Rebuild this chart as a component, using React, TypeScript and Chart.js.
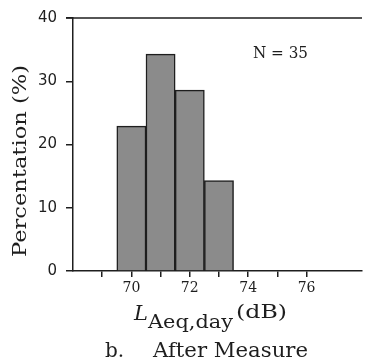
import React, { useEffect, useRef } from 'react';
import { Chart, registerables } from 'chart.js';

Chart.register(...registerables);

// ---- data ----
const binCenters = [70, 71, 72, 73];
const percentages = [22.9, 34.3, 28.6, 14.3];
const xTickLabels = [70, 72, 74, 76];
const yTickStep = 10;
const xMin = 68;
const xMax = 77.9;
const yMin = 0;
const yMax = 40;
const yTitle = 'Percentation (%)';
const xTitleMain = 'L';
const xTitleSub = 'Aeq,day';
const xTitleUnit = '(dB)';
const captionLetter = 'b.';
const captionText = 'After Measure';
const sampleNote = 'N = 35';

const INK = '#1e1e1e';

function fitText(
  ctx: CanvasRenderingContext2D,
  text: string,
  x: number,
  y: number,
  font: string,
  width: number,
  align: CanvasTextAlign = 'left'
) {
  ctx.save();
  ctx.font = font;
  ctx.textAlign = align;
  ctx.textBaseline = 'alphabetic';
  const w = ctx.measureText(text).width || 1;
  ctx.translate(x, y);
  ctx.scale(width / w, 1);
  ctx.fillStyle = INK;
  ctx.fillText(text, 0, 0);
  ctx.restore();
}

const annotations = {
  id: 'annotations',
  afterDraw(chart: any) {
    const ctx: CanvasRenderingContext2D = chart.ctx;
    const area = chart.chartArea;
    ctx.save();
    // top frame line
    ctx.strokeStyle = INK;
    ctx.lineWidth = 1.5;
    ctx.beginPath();
    ctx.moveTo(area.left - 7, area.top);
    ctx.lineTo(area.right, area.top);
    ctx.stroke();

    // y title
    ctx.save();
    ctx.translate(26, 161);
    ctx.rotate(-Math.PI / 2);
    fitText(ctx, yTitle, 0, 0, '19px "DejaVu Serif"', 192, 'center');
    ctx.restore();

    // x title
    ctx.fillStyle = INK;
    ctx.font = 'italic 21px "DejaVu Serif"';
    ctx.textAlign = 'left';
    ctx.textBaseline = 'alphabetic';
    ctx.fillText(xTitleMain, 134, 320);
    fitText(ctx, xTitleSub, 148, 328, '19px "DejaVu Serif"', 85);
    fitText(ctx, xTitleUnit, 236, 318, '18px "DejaVu Serif"', 51);

    // caption
    ctx.fillStyle = INK;
    ctx.font = '20px "DejaVu Serif"';
    ctx.fillText(captionLetter, 105, 357);
    fitText(ctx, captionText, 153, 357, '21px "DejaVu Serif"', 155);

    // sample note
    fitText(ctx, sampleNote, 253, 58, '16px "DejaVu Serif"', 55);
    ctx.restore();
  },
};

export default function App() {
  const canvasRef = useRef<HTMLCanvasElement | null>(null);

  useEffect(() => {
    if (!canvasRef.current) return;
    const chart = new Chart(canvasRef.current, {
      type: 'bar',
      data: {
        datasets: [
          {
            data: binCenters.map((x, i) => ({ x, y: percentages[i] })),
            backgroundColor: '#8b8b8b',
            borderColor: INK,
            borderWidth: 1.5,
            barPercentage: 1,
            categoryPercentage: 1,
          },
        ],
      },
      options: {
        animation: false,
        responsive: true,
        maintainAspectRatio: false,
        layout: { padding: { top: 17, left: 0, right: 0, bottom: 0 } },
        plugins: {
          legend: { display: false },
          tooltip: { enabled: false },
          title: { display: false },
        },
        scales: {
          x: {
            type: 'linear',
            offset: false,
            min: xMin,
            max: xMax,
            afterFit: (s: any) => {
              s.height = 89;
            },
            ticks: {
              stepSize: 1,
              autoSkip: false,
              maxRotation: 0,
              padding: 3,
              color: INK,
              font: { family: 'DejaVu Serif', size: 14 },
              callback: (v: any) => (xTickLabels.includes(Number(v)) ? String(v) : ''),
            },
            grid: {
              display: true,
              offset: false,
              drawOnChartArea: false,
              drawTicks: true,
              tickLength: 6,
              lineWidth: 1.5,
              color: (c: any) => {
                const v = c.tick ? c.tick.value : NaN;
                return Number.isInteger(v) && v !== xMin ? INK : 'rgba(0,0,0,0)';
              },
            },
            border: { display: true, color: INK, width: 1.5 },
          },
          y: {
            min: yMin,
            max: yMax,
            afterFit: (s: any) => {
              s.width = 73;
            },
            ticks: {
              stepSize: yTickStep,
              padding: 9,
              color: INK,
              font: { family: 'DejaVu Sans', size: 15 },
            },
            grid: {
              display: true,
              drawOnChartArea: false,
              drawTicks: true,
              tickLength: 7,
              lineWidth: 1.5,
              color: INK,
            },
            border: { display: true, color: INK, width: 1.5 },
          },
        },
      },
      plugins: [annotations],
    });
    return () => chart.destroy();
  }, []);

  return (
    <div style={{ position: 'fixed', left: 0, top: 0, width: 365, height: 360, background: '#fff' }}>
      <canvas ref={canvasRef} />
    </div>
  );
}
